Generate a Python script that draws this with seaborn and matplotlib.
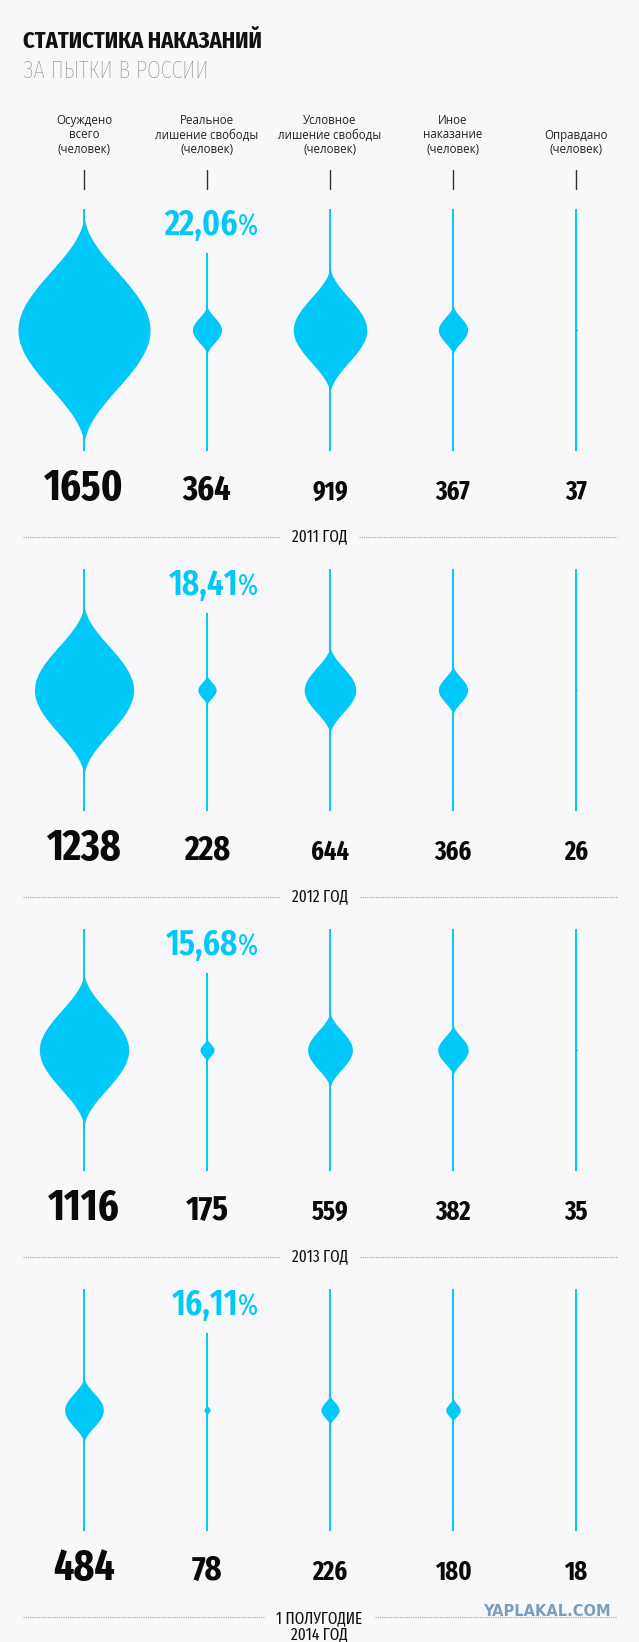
import numpy as np
import pandas as pd
import matplotlib.pyplot as plt
import seaborn as sns

categories = ["Осуждено\nвсего\n(человек)",
              "Реальное\nлишение свободы\n(человек)",
              "Условное\nлишение свободы\n(человек)",
              "Иное\nнаказание\n(человек)",
              "Оправдано\n(человек)"]
periods = ["2011 ГОД", "2012 ГОД", "2013 ГОД", "1 ПОЛУГОДИЕ\n2014 ГОД"]
total = [1650, 1238, 1116, 484]
real = [364, 228, 175, 78]
suspended = [919, 644, 559, 226]
other = [367, 366, 382, 180]
acquitted = [37, 26, 35, 18]
real_share = ["22,06", "18,41", "15,68", "16,11"]

df = pd.DataFrame({"period": periods, "total": total, "real": real,
                   "suspended": suspended, "other": other, "acquitted": acquitted})
value_cols = ["total", "real", "suspended", "other", "acquitted"]

CYAN = "#00C8F8"
BG = "#F8F7F9"
NARROW = ["Fira Sans Extra Condensed", "DejaVu Sans"]

sns.set_style("white")
plt.rcParams["font.family"] = ["Open Sans", "DejaVu Sans"]

fig = plt.figure(figsize=(6.39, 16.42), dpi=100, facecolor=BG)
ax = fig.add_axes([0, 0, 1, 1])
ax.set_xlim(0, 639)
ax.set_ylim(1642, 0)
ax.axis("off")
ax.set_facecolor(BG)

# layout
col_x = 84 + 123 * np.arange(len(value_cols))
block_y = 330 + 360 * np.arange(len(df))
W_SCALE = 66 / 1650          # px of half width per person
LINE_HALF = 121

# title
ax.text(23, 48, "СТАТИСТИКА НАКАЗАНИЙ", family=NARROW, fontsize=17.5,
        fontweight="bold", color="#111111", va="baseline", ha="left")
ax.text(23, 78, "ЗА ПЫТКИ В РОССИИ", family=NARROW, fontsize=17.5,
        fontweight="light", color="#7a7a7a", va="baseline", ha="left")

# column headers + tick marks
for x, cat in zip(col_x, categories):
    ax.text(x, 156, cat, ha="center", va="bottom", fontsize=8.3,
            color="#222222", linespacing=1.15, multialignment="center")
    ax.plot([x, x], [170, 189], color="#333333", lw=1)

num_size = [31, 25, 19, 19, 19]
renderer = fig.canvas.get_renderer()
inv = ax.transData.inverted()

for b, row in df.iterrows():
    cy = block_y[b]
    for i, col in enumerate(value_cols):
        x = col_x[i]
        v = row[col]
        top = cy - 77 if col == "real" else cy - LINE_HALF
        ax.plot([x, x], [top, cy + LINE_HALF], color=CYAN, lw=1.4,
                solid_capstyle="butt")
        w = W_SCALE * v
        h = min(1.78 * w, LINE_HALF)
        t = np.linspace(-1, 1, 301)
        hw = w * np.cos(np.pi * t / 2) ** 2
        ax.fill_betweenx(cy + h * t, x - hw, x + hw, color=CYAN, lw=0)
        ax.text(x, cy + 170, f"{v}", ha="center", va="baseline",
                family=NARROW, fontweight="bold", fontsize=num_size[i],
                color="#0a0a0a")

    # share of real imprisonment
    xr = col_x[1]
    ax.text(xr + 31, cy - 95, real_share[b], ha="right", va="baseline",
            family=NARROW, fontweight="semibold", fontsize=26, color=CYAN)
    ax.text(xr + 31, cy - 95, "%", ha="left", va="baseline",
            family=NARROW, fontweight="normal", fontsize=21, color=CYAN)

    # period separator
    sy = cy + 207
    two_lines = "\n" in row["period"]
    lab = ax.text(319.5, sy - 7 if two_lines else sy, row["period"], ha="center",
                  va="top" if two_lines else "center", family=NARROW,
                  fontsize=12, color="#111111", linespacing=1.0)
    bb = lab.get_window_extent(renderer=renderer)
    x0 = inv.transform((bb.x0, bb.y0))[0]
    x1 = inv.transform((bb.x1, bb.y1))[0]
    ax.plot([23, x0 - 12], [sy, sy], color="#a0a0a0", lw=0.8, ls=(0, (1, 1)))
    ax.plot([x1 + 12, 617], [sy, sy], color="#a0a0a0", lw=0.8, ls=(0, (1, 1)))

# watermark
ax.text(547, 1611, "YAPLAKAL.COM", ha="center", va="center", fontsize=10.5,
        family="DejaVu Sans", fontweight="bold", color="#6f93b5", alpha=0.9)

fig.savefig("out.png", dpi=100, facecolor=BG)
